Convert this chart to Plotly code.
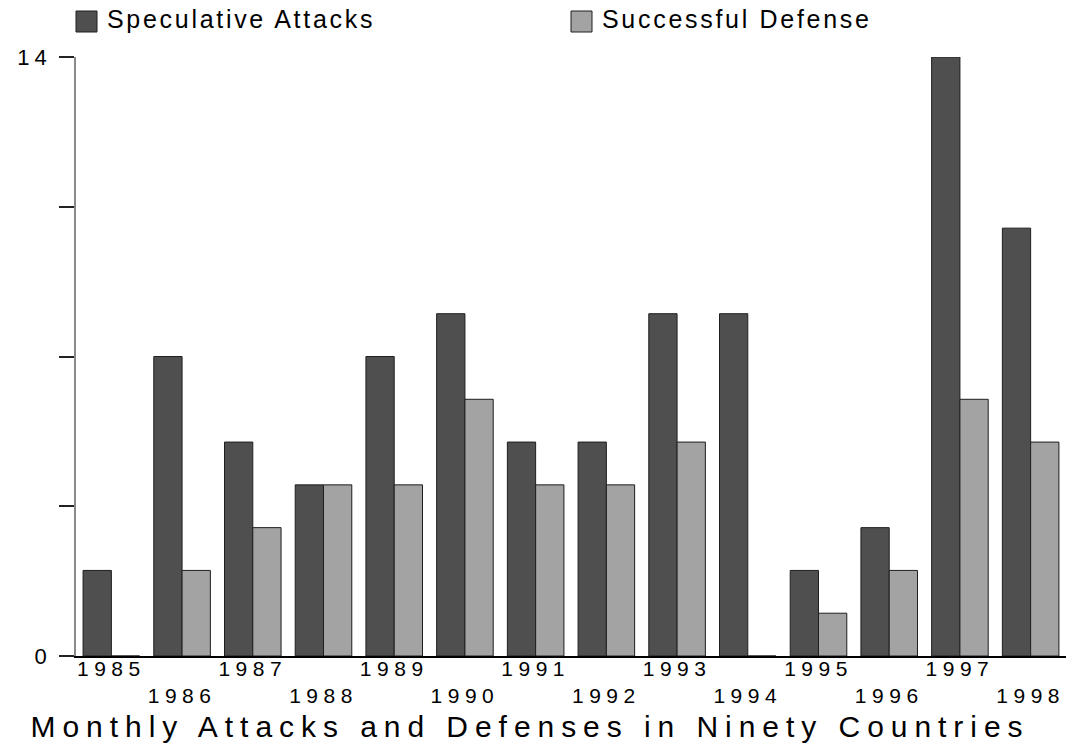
import plotly.graph_objects as go

years = ["1985", "1986", "1987", "1988", "1989", "1990", "1991",
         "1992", "1993", "1994", "1995", "1996", "1997", "1998"]
attacks = [2, 7, 5, 4, 7, 8, 5, 5, 8, 8, 2, 3, 14, 10]
defenses = [0, 2, 3, 4, 4, 6, 4, 4, 5, 0, 1, 2, 6, 5]
series_names = ["Speculative Attacks", "Successful Defense"]
y_tickvals = [0, 3.5, 7, 10.5, 14]
y_ticktext = ["0", "", "", "", "14"]
title_text = "Monthly Attacks and Defenses in Ninety Countries"

W, H = 1073, 750
L, R, T, B = 76, 7, 57, 94
PW, PH = W - L - R, H - T - B

def px(x):
    return (x - L) / PW

def py(y):
    return (H - B - y) / PH

DARK = "#4f4f4f"
LIGHT = "#a3a3a3"
EDGE = "#1e1e1e"

x_ticktext = [y if i % 2 == 0 else "<br>" + y for i, y in enumerate(years)]

fig = go.Figure()
fig.add_trace(go.Bar(x=years, y=attacks, name=series_names[0],
                     marker=dict(color=DARK, line=dict(color=EDGE, width=1)),
                     showlegend=False))
fig.add_trace(go.Bar(x=years, y=defenses, name=series_names[1],
                     marker=dict(color=LIGHT, line=dict(color=EDGE, width=1)),
                     showlegend=False))

font = "Liberation Sans, Arial, Helvetica, sans-serif"

shapes = []
annotations = []
legend_items = [(76, DARK, series_names[0]), (571, LIGHT, series_names[1])]
for x0, col, name in legend_items:
    shapes.append(dict(type="rect", xref="paper", yref="paper",
                       x0=px(x0), x1=px(x0 + 21), y0=py(32), y1=py(11),
                       fillcolor=col, line=dict(color=EDGE, width=1)))
    annotations.append(dict(text=name, xref="paper", yref="paper",
                            x=px(x0 + 29), y=py(19), xanchor="left", yanchor="middle",
                            align="left", showarrow=False,
                            font=dict(family=font, size=25, color="black")))

fig.update_layout(
    width=W, height=H,
    margin=dict(l=L, r=R, t=T, b=B, pad=0),
    paper_bgcolor="white", plot_bgcolor="white",
    barmode="group", bargap=0.2, bargroupgap=0,
    font=dict(family=font, color="black"),
    title=dict(text=title_text, xref="container", yref="container",
               x=530 / W, y=1 - 726 / H, xanchor="center", yanchor="middle",
               font=dict(family=font, size=30, color="black")),
    xaxis=dict(tickmode="array", tickvals=years, ticktext=x_ticktext,
               showline=True, linecolor="black", linewidth=1.5,
               ticks="", ticklen=0, showgrid=False, zeroline=False,
               tickfont=dict(family=font, size=21, color="black"),
               ticklabelstandoff=-7),
    yaxis=dict(range=[0, 14], tickmode="array", tickvals=y_tickvals,
               ticktext=y_ticktext, showline=True, linecolor="#8a8a8a",
               linewidth=1.5, ticks="outside", ticklen=15, tickwidth=1.5,
               tickcolor="#222222", showgrid=False, zeroline=False,
               tickfont=dict(family=font, size=22, color="black"),
               ticklabelstandoff=3),
    shapes=shapes,
    annotations=annotations,
)

post = """
document.body.style.margin = '0';
document.body.style.padding = '0';
var gd = document.getElementById('{plot_id}');
function ls(sel, v){ gd.querySelectorAll(sel).forEach(function(e){ e.style.letterSpacing = v; }); }
ls('.gtitle', '6.95px');
ls('.xtick text', '5.5px');
ls('.ytick text', '5px');
ls('.annotation-text', '2.7px');
"""

fig.write_html("out.html", post_script=post, config={"displayModeBar": False})
